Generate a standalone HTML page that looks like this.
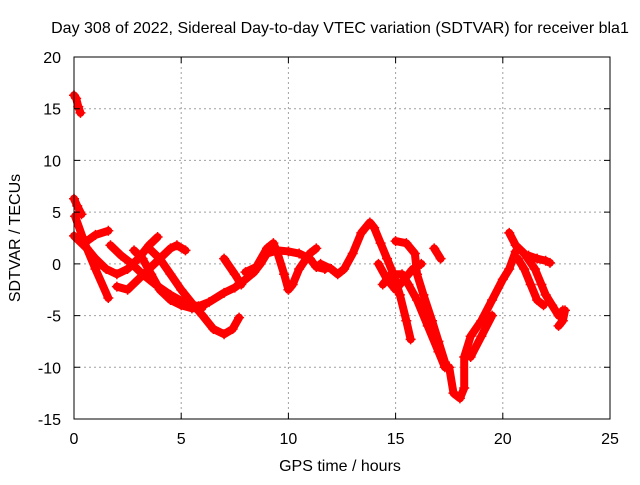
<!DOCTYPE html>
<html><head><meta charset="utf-8"><style>
body{margin:0;background:#fff}
svg text{font-family:"Liberation Sans",sans-serif;font-size:16px;fill:#000}
</style></head><body>
<svg id="chart" width="640" height="480" xmlns="http://www.w3.org/2000/svg">
<text x="340" y="33" text-anchor="middle">Day 308 of 2022, Sidereal Day-to-day VTEC variation (SDTVAR) for receiver bla1</text>
<g id="grid"></g>
<g id="series"></g>
<rect x="74" y="57" width="536" height="362" fill="none" stroke="#000" stroke-width="1"/>
<g id="ticks"></g>
<text x="340" y="471" text-anchor="middle">GPS time / hours</text>
<text x="0" y="0" text-anchor="middle" transform="translate(20,238) rotate(-90)">SDTVAR / TECUs</text>
</svg>
<script>
const xTicks=[0,5,10,15,20,25];
const yTicks=[-15,-10,-5,0,5,10,15,20];
const arcA_t=[0,0.1,0.2,0.3];const arcA_v=[16.3,16,15.2,14.6];
const arcB_t=[0,0.15,0.35];const arcB_v=[6.3,5.6,4.8];
const arcC_t=[0.05,0.5,1,1.6];const arcC_v=[4.6,2,-0.5,-3.3];
const arcD_t=[0,0.6,1,1.5,2,2.5,3,3.5,3.9];const arcD_v=[2.7,1.5,0.5,-0.5,-1,-0.5,0.5,1.8,2.6];
const arcE_t=[0.6,1,1.6];const arcE_v=[2.2,2.8,3.2];
const arcF_t=[1.7,2.2,2.7,3.2,3.8,4.5,5.2,5.8,6.3,7,7.5,8,8.4,8.7,9,9.5,10,10.5,11,11.3,11.7];
const arcF_v=[1.8,0.8,0,-1,-2,-3,-3.8,-4.1,-3.7,-2.8,-2.3,-1.5,-0.8,0,1,1.3,1.2,1,0.5,-0.3,-0.5];
const arcG_t=[2,2.5,3,3.5,4,4.5,4.8,5.2];const arcG_v=[-2.2,-2.5,-1.5,-0.5,0.5,1.5,1.8,1.3];
const arcH_t=[3.5,4,4.5,5,5.5,6,6.5,7,7.4,7.7];const arcH_v=[1.5,0.5,-1,-2.5,-3.8,-5,-6.3,-6.8,-6.3,-5.2];
const arcI_t=[2.8,3.2,3.6,4,4.5,5,5.5,6];const arcI_v=[1.3,0.5,-1,-2.5,-3.5,-4,-4.3,-4.2];
const arcJ_t=[7,7.5,7.8];const arcJ_v=[0.5,-1,-2];
const arcK_t=[8,8.5,9,9.3,9.5,9.8,10,10.2,10.5,11,11.3];const arcK_v=[-0.8,-0.3,1.5,2,1,-1,-2.5,-2,-0.5,1,1.5];
const arcL_t=[11.5,12,12.3,12.6,13,13.4,13.8,14,14.3,14.6,14.9,15.2,15.5,15.7];
const arcL_v=[0,-0.5,-1,-0.5,1,3,4,3.5,2,0.5,-1,-3,-5.5,-7.3];
const arcM_t=[14.4,14.8,15.3,15.6,16,16.5,17,17.3];const arcM_v=[-2,-1,-1,-2,-3.5,-6,-8.5,-10];
const arcN_t=[15,15.5,15.9,16,16.3,16.7,17,17.3];const arcN_v=[2.2,2,1,-1,-3,-5.5,-7.5,-9.5];
const arcO_t=[16.8,17.1];const arcO_v=[1.5,0.5];
const arcP_t=[17.5,17.7,18,18.2,18.2,18.5,19,19.5,20,20.3,20.6];const arcP_v=[-10,-12.5,-13,-12,-9,-7,-5.5,-3.5,-1.5,-0.5,1.2];
const arcQ_t=[18.5,19,19.5];const arcQ_v=[-9,-7,-5];
const arcR_t=[20.3,20.6,21,21.5,21.8,22,22.3,22.6,22.8];const arcR_v=[3,1.8,1,-0.5,-2,-3,-4,-5,-4.5];
const arcS_t=[20.7,21,21.3,21.6,21.9];const arcS_v=[0.5,-0.5,-2,-3.5,-4];
const arcT_t=[21.2,21.6,22,22.2];const arcT_v=[0.8,0.5,0.3,0.1];
const arcU_t=[22.6,22.8,22.9];const arcU_v=[-6,-5.5,-4.5];
const arcV_t=[14.2,14.6,15,15.4,15.8,16.2];const arcV_v=[0,-1.5,-2.5,-1.5,-0.5,0];
const arcs=[[arcA_t,arcA_v],[arcB_t,arcB_v],[arcC_t,arcC_v],[arcD_t,arcD_v],[arcE_t,arcE_v],[arcF_t,arcF_v],[arcG_t,arcG_v],[arcH_t,arcH_v],[arcI_t,arcI_v],[arcJ_t,arcJ_v],[arcK_t,arcK_v],[arcL_t,arcL_v],[arcM_t,arcM_v],[arcN_t,arcN_v],[arcO_t,arcO_v],[arcP_t,arcP_v],[arcQ_t,arcQ_v],[arcR_t,arcR_v],[arcS_t,arcS_v],[arcT_t,arcT_v],[arcU_t,arcU_v],[arcV_t,arcV_v]];
const NS="http://www.w3.org/2000/svg";
const X0=74,X1=610,Y0=419,Y1=57;
function sx(t){return X0+(t-0)/(25-0)*(X1-X0);}
function sy(v){return Y0-(v+15)/(35)*(Y0-Y1);}
const grid=document.getElementById('grid'),ticks=document.getElementById('ticks'),ser=document.getElementById('series');
function mk(tag,attrs,parent){const e=document.createElementNS(NS,tag);for(const k in attrs)e.setAttribute(k,attrs[k]);parent.appendChild(e);return e;}
xTicks.forEach(t=>{const x=sx(t);
 if(t>0&&t<25){const g=mk('line',{x1:x,x2:x,y1:Y0,y2:Y1,stroke:'#a0a0a0','stroke-dasharray':'2,3'},grid);}
 const tk=mk('path',{d:`M${x},${Y0}v-6M${x},${Y1}v6`,stroke:'#000'},ticks);
 const l=mk('text',{x:x,y:444,'text-anchor':'middle'},ticks);l.textContent=t;});
yTicks.forEach(v=>{const y=sy(v);
 if(v>-15&&v<20){const g=mk('line',{x1:X0,x2:X1,y1:y,y2:y,stroke:'#a0a0a0','stroke-dasharray':'2,3'},grid);}
 const tk=mk('path',{d:`M${X0},${y}h6M${X1},${y}h-6`,stroke:'#000'},ticks);
 const l=mk('text',{x:61,y:y+6,'text-anchor':'end'},ticks);l.textContent=v;});
arcs.forEach(([ts,vs])=>{
 const pts=ts.map((t,i)=>sx(t)+','+sy(vs[i])).join(' ');
 const pl=mk('polyline',{points:pts,fill:'none',stroke:'#ff0000','stroke-width':8,'stroke-linejoin':'round','stroke-linecap':'round'},ser);
 
 
 ts.forEach((t,i)=>{const x=sx(t),y=sy(vs[i]);
  const p=mk('path',{d:`M${x-5},${y}h10M${x},${y-5}v10`,stroke:'#ff0000','stroke-width':1.5},ser);
  
  });
});
</script>
</body></html>
